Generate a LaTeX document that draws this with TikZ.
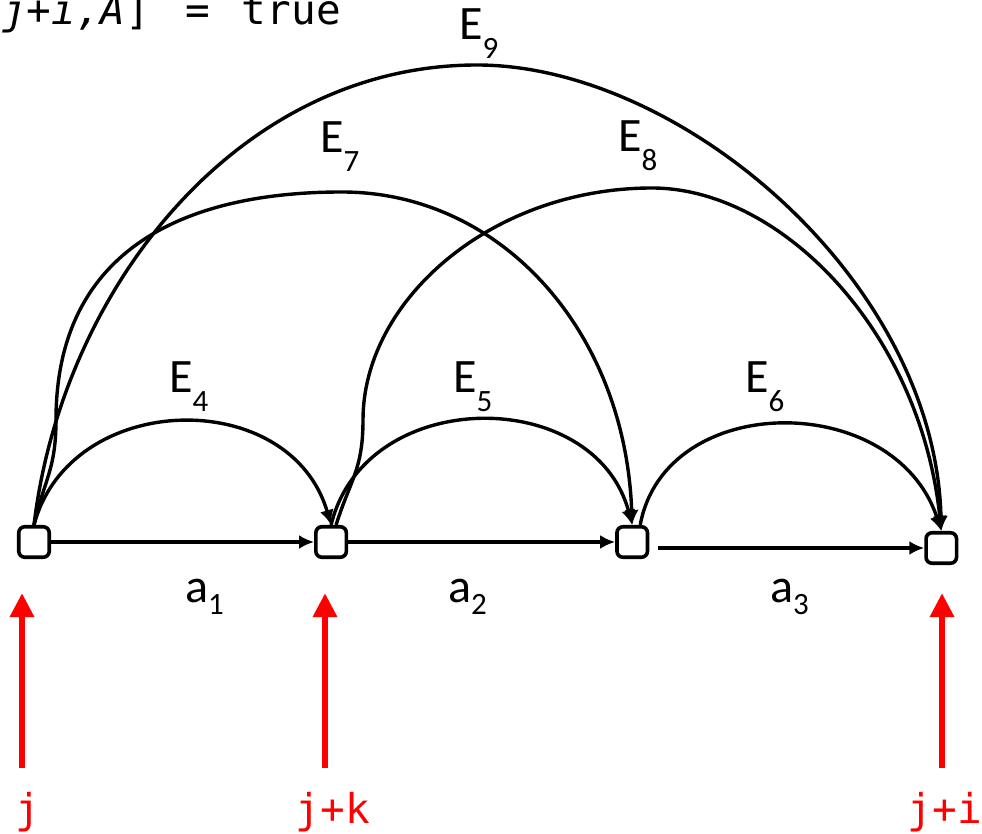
\documentclass[tikz,border=0pt]{standalone}
\usepackage{fontspec}
\setmainfont{Carlito}
\newfontfamily\codefont{DejaVu Sans Mono}
\usetikzlibrary{arrows.meta,positioning,calc}
% subscript that drops well below the baseline
\newcommand{\lsub}[2][0.38em]{\raisebox{-#1}{\fontsize{31}{31}\selectfont #2}}
\tikzset{
  % state box: small rounded square
  sbox/.style={draw, rectangle, rounded corners=6pt, minimum size=30.5pt,
               inner sep=0pt, line width=3.6pt},
  % arrows
  flowarr/.style={-{Latex[length=15pt,width=14pt]}, line width=3.4pt},
  arcarr/.style={flowarr},
  ptr/.style={-{Triangle[length=24pt,width=23pt]}, line width=6.5pt, red},
  % labels
  elabel/.style={anchor=base west, inner sep=0pt, font=\fontsize{48}{48}\selectfont},
  plabel/.style={anchor=base, inner sep=0pt, text=red, font=\codefont\fontsize{41}{41}\selectfont},
  codetext/.style={anchor=base west, inner sep=0pt, font=\codefont\fontsize{41}{41}\selectfont}
}

\begin{document}
\begin{tikzpicture}[x=1pt, y=1pt]
\path[use as bounding box, clip] (0,0) rectangle (982,833);

% ============== condition text (cut at the top) ==============
\node[codetext] (cond) at (2,808) {{\itshape j+i,A}]\hspace{35pt}=\hspace{32pt}true};

% ============== positions ==============
\node[sbox] (n1) at (34,291) {};
\node[sbox, right=263pt of n1] (n2) {};
\node[sbox, right=267pt of n2] (n3) {};
\node[sbox, right=275pt of n3, yshift=-6pt] (n4) {};

% ============== chain a1 a2 a3 ==============
\draw[flowarr] (n1) -- (n2);
\draw[flowarr] (n2) -- (n3);
\draw[flowarr, shorten <=9pt] (n3.east |- n4.west) -- (n4.west);

\node[elabel] (a1) at (185,230) {a\lsub[0.25em]{1}};
\node[elabel] (a2) at (448,230) {a\lsub[0.25em]{2}};
\node[elabel] (a3) at (770,230) {a\lsub[0.25em]{3}};

% ============== short arcs E4 E5 E6 ==============
\draw[arcarr] (n1.north) .. controls +(36,135) and +(-41,140) .. (n2.north);
\draw[arcarr] (n2.north) .. controls +(34,140) and +(-37,140) .. (n3.north);
\draw[arcarr] ([xshift=8pt]n3.north) .. controls +(25,135) and +(-46,141) .. (n4.north);

\node[elabel] (e4) at (169,440) {E\lsub{4}};
\node[elabel] (e5) at (453,440) {E\lsub{5}};
\node[elabel] (e6) at (745,440) {E\lsub{6}};

% ============== long arcs E7 E8 E9 ==============
% bend points: where the long arcs turn from steep to upright
\coordinate (bend7) at (56,413);
\coordinate (bend8) at (363,413);
\coordinate (top7) at (342,641);
\coordinate (top8) at (652,645);
\coordinate (top9) at (477,768);
\draw[arcarr] (n1.north) .. controls +(10,45) and +(0,-50) .. (bend7)
  .. controls +(0,165) and +(-165,0) .. (top7)
  .. controls +(158,0) and +(-7,195) .. (n3.north);
\draw[arcarr] ([xshift=5pt]n2.north) .. controls +(14,45) and +(0,-50) .. (bend8)
  .. controls +(0,120) and +(-160,0) .. (top8)
  .. controls +(128,0) and +(-21,201) .. (n4.north);
\draw[arcarr] (n1.north) .. controls +(28,235) and +(-240,0) .. (top9)
  .. controls +(203,0) and +(-6,251) .. (n4.north);

\node[elabel] (e7) at (320,680) {E\lsub{7}};
\node[elabel] (e8) at (618,681) {E\lsub{8}};
\node[elabel] (e9) at (459,793) {E\lsub{9}};

% ============== pointers j, j+k, j+i ==============
\coordinate (pj) at (22,65);
\coordinate (pjk) at (325,65);
\coordinate (pji) at (942,65);
\draw[ptr, shorten >=34pt] (pj) -- (pj |- n1.south);
\draw[ptr, shorten >=34pt] (pjk) -- (pjk |- n2.south);
\draw[ptr, shorten >=28pt] (pji) -- (pji |- n4.south);

\node[plabel] (lj) at (28,10) {j};
\node[plabel] (ljk) at (333,10) {j+k};
\node[plabel] (lji) at (945,10) {j+i};

\end{tikzpicture}
\end{document}
